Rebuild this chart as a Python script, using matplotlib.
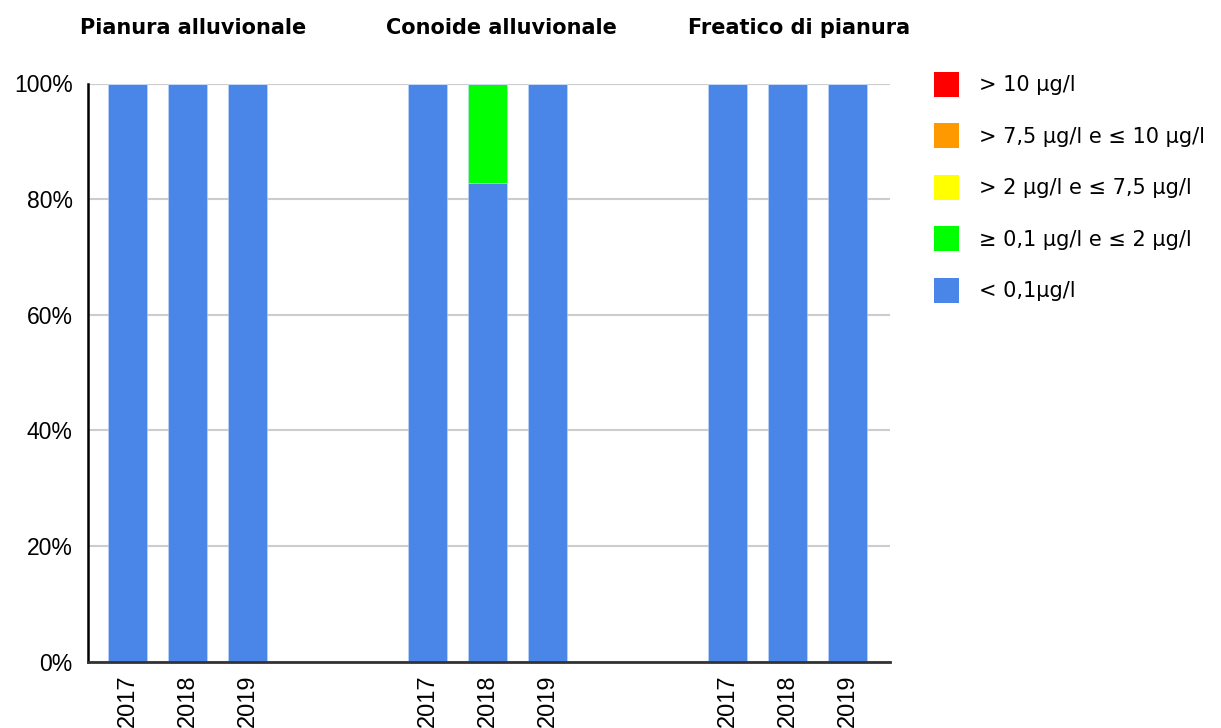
import numpy as np
import matplotlib.pyplot as plt
from matplotlib.patches import Patch

# data
groups = ["Pianura alluvionale", "Conoide alluvionale", "Freatico di pianura"]
years = ["2017", "2018", "2019"]
classes = ["< 0,1μg/l", "≥ 0,1 μg/l e ≤ 2 μg/l", "> 2 μg/l e ≤ 7,5 μg/l",
           "> 7,5 μg/l e ≤ 10 μg/l", "> 10 μg/l"]
colors = ["#4a86e8", "#00ff00", "#ffff00", "#ff9900", "#ff0000"]

lt_01 = [100, 100, 100, 100, 82.8, 100, 100, 100, 100]
from_01_to_2 = [0, 0, 0, 0, 17.2, 0, 0, 0, 0]
from_2_to_75 = [0, 0, 0, 0, 0, 0, 0, 0, 0]
from_75_to_10 = [0, 0, 0, 0, 0, 0, 0, 0, 0]
gt_10 = [0, 0, 0, 0, 0, 0, 0, 0, 0]
series = [lt_01, from_01_to_2, from_2_to_75, from_75_to_10, gt_10]

# bar positions: 3 years per group, 2 empty slots between groups
pos = [g * 5 + y for g in range(len(groups)) for y in range(len(years))]
labels = [yr for g in groups for yr in years]

fig = plt.figure(figsize=(12.21, 7.28), dpi=100)
ax = fig.add_axes([88 / 1221, 1 - 661.7 / 728, 802 / 1221, (661.7 - 83.5) / 728])

bottom = np.zeros(len(pos))
for vals, col, name in zip(series, colors, classes):
    vals = np.array(vals, dtype=float)
    ax.bar(pos, vals, width=0.645, bottom=bottom, color=col, edgecolor="#c9daf8",
           linewidth=0.4, zorder=3, label=name)
    bottom += vals

ax.set_xlim(-0.658, 12.708)
ax.set_ylim(0, 100)
ax.set_yticks([0, 20, 40, 60, 80, 100])
ax.set_yticklabels([f"{v}%" for v in range(0, 101, 20)], family="Liberation Sans", fontsize=16.5)
ax.set_xticks(pos)
ax.set_xticklabels(labels, rotation=90, family="Liberation Sans", fontsize=17, va="top")
ax.tick_params(axis="y", length=0, pad=11)
ax.tick_params(axis="x", length=0, pad=9)
ax.grid(axis="y", color="#cccccc", linewidth=1.5, zorder=0)
for s in ["top", "right"]:
    ax.spines[s].set_visible(False)
ax.spines["left"].set_color("black")
ax.spines["left"].set_linewidth(1.8)
ax.spines["bottom"].set_color("#333333")
ax.spines["bottom"].set_linewidth(2)
ax.spines["left"].set_zorder(4)
ax.spines["bottom"].set_zorder(4)

# group titles
title_x = [193.5, 501, 799]
for name, px in zip(groups, title_x):
    fig.text(px / 1221, 1 - 28 / 728, name, ha="center", va="center",
             fontsize=15, fontweight="bold", family="DejaVu Sans")

handles = [Patch(facecolor=c, edgecolor="none") for c in colors][::-1]
leg = fig.legend(handles, classes[::-1], loc="upper left",
                 bbox_to_anchor=(934 / 1221, 1 - 72 / 728), frameon=False,
                 prop={"family": "DejaVu Sans", "size": 15},
                 handlelength=1.2, handleheight=1.465, labelspacing=1.27,
                 handletextpad=0.96, borderaxespad=0, borderpad=0)

fig.savefig("out.png", dpi=100)
